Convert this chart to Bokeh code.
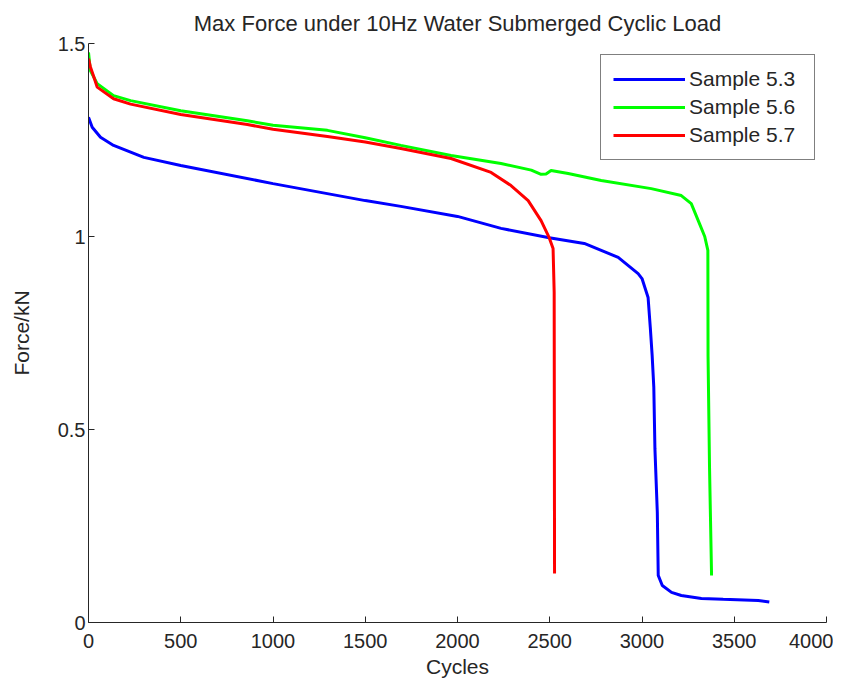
from bokeh.plotting import figure
from bokeh.models import FixedTicker, Legend, LegendItem, Range1d
from bokeh.embed import file_html
from bokeh.resources import INLINE

# ---- data ----
cycles_53 = [0, 20, 65, 136, 300, 500, 1000, 1500, 1693, 2000, 2236, 2497, 2687, 2871,
             2979, 3000, 3033, 3045, 3055, 3064, 3070, 3083, 3088, 3110, 3160, 3213,
             3322, 3440, 3630, 3690]
force_53 = [1.309, 1.283, 1.257, 1.236, 1.205, 1.184, 1.137, 1.093, 1.078, 1.052, 1.021,
            0.997, 0.982, 0.946, 0.904, 0.891, 0.842, 0.764, 0.692, 0.609, 0.451, 0.285,
            0.122, 0.096, 0.078, 0.070, 0.062, 0.060, 0.057, 0.053]

cycles_56 = [0, 10, 47, 136, 228, 500, 861, 1000, 1295, 1500, 1693, 1965, 2236, 2400,
             2453, 2480, 2507, 2600, 2779, 3050, 3213, 3267, 3311, 3340, 3357, 3358,
             3366, 3377]
force_56 = [1.477, 1.430, 1.396, 1.365, 1.352, 1.326, 1.300, 1.288, 1.275, 1.256, 1.236,
            1.210, 1.189, 1.172, 1.161, 1.162, 1.171, 1.163, 1.145, 1.124, 1.106, 1.085,
            1.034, 1.000, 0.964, 0.690, 0.402, 0.122]

cycles_57 = [0, 10, 29, 47, 136, 228, 500, 861, 1000, 1295, 1500, 1693, 1965, 2182,
             2290, 2383, 2453, 2497, 2518, 2524, 2526]
force_57 = [1.461, 1.440, 1.413, 1.387, 1.357, 1.343, 1.316, 1.290, 1.278, 1.259, 1.245,
            1.228, 1.202, 1.166, 1.132, 1.093, 1.041, 0.997, 0.969, 0.855, 0.127]

series_names = ["Sample 5.3", "Sample 5.6", "Sample 5.7"]
series_colors = ["#0000FF", "#00FF00", "#FF0000"]

x_ticks = [0, 500, 1000, 1500, 2000, 2500, 3000, 3500, 4000]
y_ticks = [0, 0.5, 1, 1.5]
y_tick_labels = ["0", "0.5", "1", "1.5"]

FONT = "Liberation Sans"
TXT = "#262626"

p = figure(width=833, height=680, output_backend="svg", toolbar_location=None,
           x_range=Range1d(0, 4000), y_range=Range1d(0, 1.5),
           title="Max Force under 10Hz Water Submerged Cyclic Load",
           min_border_left=88, min_border_right=7, min_border_top=43,
           min_border_bottom=58)

p.title.align = "center"
p.title.text_font = FONT
p.title.text_font_size = "22px"
p.title.text_font_style = "normal"
p.title.text_color = TXT
p.title.standoff = 16

p.outline_line_color = None
p.xgrid.grid_line_color = None
p.ygrid.grid_line_color = None
p.background_fill_color = "white"
p.border_fill_color = "white"

for ax in (p.xaxis[0], p.yaxis[0]):
    ax.axis_line_color = TXT
    ax.major_tick_line_color = TXT
    ax.major_tick_in = 6
    ax.major_tick_out = 0
    ax.minor_tick_line_color = None
    ax.major_label_text_font = FONT
    ax.major_label_text_font_size = "20px"
    ax.major_label_text_color = TXT
    ax.axis_label_text_font = FONT
    ax.axis_label_text_font_size = "21px"
    ax.axis_label_text_font_style = "normal"
    ax.axis_label_text_color = TXT

p.xaxis.ticker = FixedTicker(ticks=x_ticks)
p.yaxis.ticker = FixedTicker(ticks=y_ticks)
p.yaxis.major_label_overrides = {t: l for t, l in zip(y_ticks, y_tick_labels)}
p.xaxis.major_label_standoff = 11
p.yaxis.major_label_standoff = 3
p.xaxis.axis_label = "Cycles"
p.yaxis.axis_label = "Force/kN"
p.xaxis.axis_label_standoff = 4
p.yaxis.axis_label_standoff = 22

data = [(cycles_53, force_53), (cycles_56, force_56), (cycles_57, force_57)]
items = []
for (xs, ys), name, col in zip(data, series_names, series_colors):
    r = p.line(xs, ys, line_color=col, line_width=3)
    items.append(LegendItem(label=name, renderers=[r]))

legend = Legend(items=items, location="top_right")
legend.margin = 11
legend.padding = 12
legend.spacing = 4
legend.glyph_width = 72
legend.glyph_height = 20
legend.label_height = 20
legend.label_width = 113
legend.label_standoff = 4
legend.label_text_font = FONT
legend.label_text_font_size = "21px"
legend.label_text_color = TXT
legend.border_line_color = "black"
legend.border_line_width = 1
legend.background_fill_color = "white"
legend.background_fill_alpha = 1
p.add_layout(legend, "center")

open("out.html", "w").write(file_html(p, INLINE))
